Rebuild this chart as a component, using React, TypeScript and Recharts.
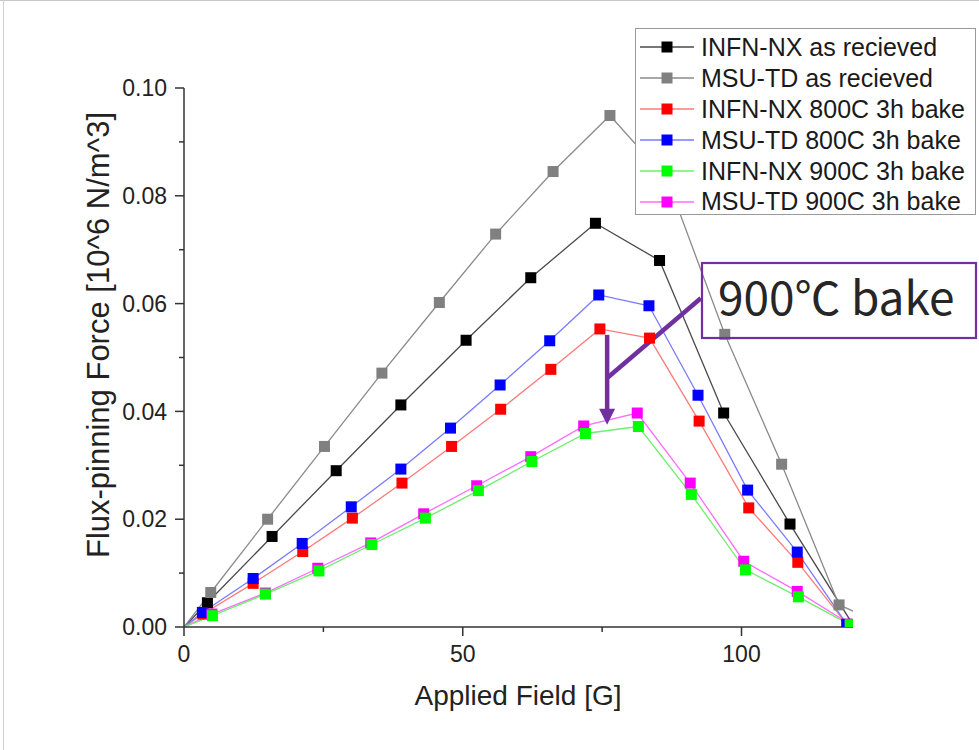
import React from "react";
import {
  LineChart,
  Line,
  XAxis,
  YAxis,
  Legend,
  Label,
  ReferenceLine,
  ReferenceDot,
} from "recharts";

const FONT = '"Liberation Sans", Arial, sans-serif';
const AXIS = "#333333";
const PURPLE = "#7030A0";

// INFN-NX as recieved
const infnRecField = [0, 4.2, 15.8, 27.3, 38.9, 50.6, 62.2, 73.8, 85.3, 96.8, 108.7, 120];
const infnRecForce = [0, 0.0045, 0.0168, 0.029, 0.0412, 0.0532, 0.0648, 0.0749, 0.068, 0.0397, 0.0191, 0.0004];

// MSU-TD as recieved (one point sits behind the legend)
const msuRecField = [0, 4.8, 15.0, 25.2, 35.5, 45.8, 55.9, 66.2, 76.4, 86.7, 97.0, 107.2, 117.5, 126];
const msuRecForce = [0, 0.0064, 0.02, 0.0335, 0.0471, 0.0602, 0.0729, 0.0845, 0.0949, 0.083, 0.0543, 0.0302, 0.0041, 0.0003];

// INFN-NX 800C 3h bake
const infn800Field = [0, 3.4, 12.4, 21.3, 30.2, 39.1, 48.0, 56.8, 65.8, 74.6, 83.5, 92.4, 101.3, 110.1, 118.9];
const infn800Force = [0, 0.0024, 0.0081, 0.014, 0.0202, 0.0267, 0.0335, 0.0404, 0.0478, 0.0553, 0.0536, 0.0382, 0.0221, 0.012, 0.0005];

// MSU-TD 800C 3h bake
const msu800Field = [0, 3.3, 12.4, 21.2, 30.0, 38.9, 47.8, 56.7, 65.6, 74.4, 83.4, 92.2, 101.1, 110.0, 118.9];
const msu800Force = [0, 0.0027, 0.009, 0.0155, 0.0223, 0.0293, 0.0369, 0.0449, 0.0531, 0.0616, 0.0596, 0.043, 0.0254, 0.0139, 0.0005];

// INFN-NX 900C 3h bake
const infn900Field = [0, 5.1, 14.6, 24.2, 33.7, 43.3, 52.8, 62.4, 72.0, 81.5, 91.0, 100.7, 110.2, 119.5];
const infn900Force = [0, 0.0021, 0.0061, 0.0104, 0.0153, 0.0202, 0.0253, 0.0307, 0.0359, 0.0372, 0.0246, 0.0106, 0.0056, 0.0004];

// MSU-TD 900C 3h bake
const msu900Field = [0, 5.0, 14.6, 24.0, 33.5, 43.0, 52.5, 62.2, 71.7, 81.3, 90.8, 100.4, 110.0, 119.5];
const msu900Force = [0, 0.0024, 0.0063, 0.0109, 0.0156, 0.021, 0.0262, 0.0316, 0.0373, 0.0397, 0.0267, 0.0122, 0.0066, 0.0005];

const xTicks = [0, 25, 50, 75, 100];
const xLabelled = [0, 50, 100];
const yTicks = [0, 0.01, 0.02, 0.03, 0.04, 0.05, 0.06, 0.07, 0.08, 0.09, 0.1];
const yLabelled = ["0.00", "0.02", "0.04", "0.06", "0.08", "0.10"];

// "900C bake" callout, in data units
const calloutStart = { x: 92.7, y: 0.061 };
const calloutJoint = { x: 75.9, y: 0.0462 };
const arrowTop = { x: 75.9, y: 0.0542 };
const arrowTip = { x: 75.9, y: 0.0377 };

const zip = (xs: number[], ys: number[]) => xs.map((field, i) => ({ field, force: ys[i] }));

const series = [
  { name: "INFN-NX as recieved", data: zip(infnRecField, infnRecForce), line: "#4a4a4a", mark: "#000000" },
  { name: "MSU-TD as recieved", data: zip(msuRecField, msuRecForce), line: "#8a8a8a", mark: "#808080" },
  { name: "INFN-NX 800C 3h bake", data: zip(infn800Field, infn800Force), line: "#ff7a7a", mark: "#ff0000" },
  { name: "MSU-TD 800C 3h bake", data: zip(msu800Field, msu800Force), line: "#7a7aff", mark: "#0000ff" },
  { name: "INFN-NX 900C 3h bake", data: zip(infn900Field, infn900Force), line: "#6cf06c", mark: "#00ff00" },
  { name: "MSU-TD 900C 3h bake", data: zip(msu900Field, msu900Force), line: "#ff6cff", mark: "#ff00ff" },
];
const drawOrder = [0, 1, 2, 3, 5, 4];

const squareDot = (fill: string) => (props: any) => {
  const { cx, cy, index, payload } = props;
  if (cx == null || cy == null || payload.field <= 0) return <g key={`n${index}`} />;
  return <rect key={`d${index}`} x={cx - 5.5} y={cy - 5.5} width={11} height={11} fill={fill} />;
};

function XTick(props: any) {
  const { x, y, payload } = props;
  const major = xLabelled.includes(payload.value);
  return (
    <g>
      <line x1={x} x2={x} y1={y} y2={y + (major ? 9 : 5)} stroke={AXIS} strokeWidth={1.5} />
      {major && (
        <text x={x} y={y + 19} dy="0.71em" textAnchor="middle" fill="#222" fontSize={23} fontFamily={FONT}>
          {payload.value}
        </text>
      )}
    </g>
  );
}

function YTick(props: any) {
  const { x, y, payload } = props;
  const txt = payload.value.toFixed(2);
  const major = yLabelled.includes(txt);
  return (
    <g>
      <line x1={x - (major ? 9 : 5)} x2={x} y1={y} y2={y} stroke={AXIS} strokeWidth={1.5} />
      {major && (
        <text x={x - 17} y={y} dy="0.355em" textAnchor="end" fill="#222" fontSize={23} fontFamily={FONT}>
          {txt}
        </text>
      )}
    </g>
  );
}

function LegendBox() {
  return (
    <div
      style={{
        width: 341,
        height: 187,
        boxSizing: "border-box",
        border: "1.5px solid #9a9a9a",
        background: "#fff",
        paddingTop: 3,
        fontFamily: FONT,
        fontSize: 25,
        color: "#1a1a1a",
      }}
    >
      {series.map((s) => (
        <div key={s.name} style={{ display: "flex", alignItems: "center", height: 30.9 }}>
          <svg width={65} height={20} style={{ flex: "none" }}>
            <line x1={4} x2={58} y1={10} y2={10} stroke={s.line} strokeWidth={1.3} />
            <rect x={25.5} y={4.5} width={11} height={11} fill={s.mark} />
          </svg>
          <span style={{ whiteSpace: "nowrap" }}>{s.name}</span>
        </div>
      ))}
    </div>
  );
}

const arrowHead = (props: any) => {
  const { cx, cy } = props;
  return <path d={`M${cx},${cy + 1} L${cx - 8},${cy - 15} L${cx + 8},${cy - 15} Z`} fill={PURPLE} />;
};

export default function App() {
  return (
    <div style={{ position: "relative", width: 979, height: 750, background: "#fff", overflow: "hidden" }}>
      <style>{"body{margin:0}"}</style>
      <div style={{ position: "absolute", left: 0, top: 0, width: 979, height: 1, background: "#c8c8c8" }} />
      <div style={{ position: "absolute", left: 3, top: 0, width: 1, height: 750, background: "#d0d0d0" }} />
      <LineChart width={979} height={750} margin={{ top: 88, right: 126, bottom: 33, left: 84 }}>
        <XAxis
          type="number"
          dataKey="field"
          domain={[0, 120]}
          allowDataOverflow
          ticks={xTicks}
          interval={0}
          tickSize={0}
          tickMargin={0}
          tickLine={false}
          tick={<XTick />}
          height={90}
          axisLine={{ stroke: AXIS, strokeWidth: 1.5 }}
        >
          <Label
            content={() => (
              <text x={518} y={705} textAnchor="middle" fill="#222" fontSize={28} fontFamily={FONT}>
                Applied Field [G]
              </text>
            )}
          />
        </XAxis>
        <YAxis
          type="number"
          domain={[0, 0.1]}
          allowDataOverflow
          ticks={yTicks}
          interval={0}
          tickSize={0}
          tickMargin={0}
          tickLine={false}
          tick={<YTick />}
          width={100}
          axisLine={{ stroke: AXIS, strokeWidth: 1.5 }}
        >
          <Label
            content={() => (
              <text
                x={109}
                y={335}
                transform="rotate(-90 109 335)"
                textAnchor="middle"
                fill="#222"
                fontSize={31}
                fontFamily={FONT}
              >
                Flux-pinning Force [10^6 N/m^3]
              </text>
            )}
          />
        </YAxis>
        {drawOrder.map((i) => {
          const s = series[i];
          return (
            <Line
              key={s.name}
              name={s.name}
              data={s.data}
              dataKey="force"
              type="linear"
              stroke={s.line}
              strokeWidth={1.3}
              dot={squareDot(s.mark)}
              activeDot={false}
              isAnimationActive={false}
            />
          );
        })}
        <ReferenceLine
          segment={[calloutStart, calloutJoint]}
          stroke={PURPLE}
          strokeWidth={4.5}
          ifOverflow="visible"
        />
        <ReferenceLine
          segment={[arrowTop, { x: arrowTip.x, y: arrowTip.y + 0.002 }]}
          stroke={PURPLE}
          strokeWidth={4.5}
          ifOverflow="visible"
        />
        <ReferenceDot x={arrowTip.x} y={arrowTip.y} shape={arrowHead} ifOverflow="visible" />
        <Legend
          layout="horizontal"
          verticalAlign="middle"
          align="center"
          wrapperStyle={{ top: 28, left: 635, width: 341 }}
          content={() => <LegendBox />}
        />
      </LineChart>
      <svg
        width={979}
        height={750}
        style={{ position: "absolute", left: 0, top: 0, pointerEvents: "none" }}
      >
        <rect x={702} y={263} width={274} height={75} fill="none" stroke={PURPLE} strokeWidth={2.2} />
        <text x={718} y={315} fill="#262626" fontSize={46} fontFamily='"Noto Sans CJK SC", "Noto Sans", sans-serif'>
          900℃ bake
        </text>
      </svg>
    </div>
  );
}
